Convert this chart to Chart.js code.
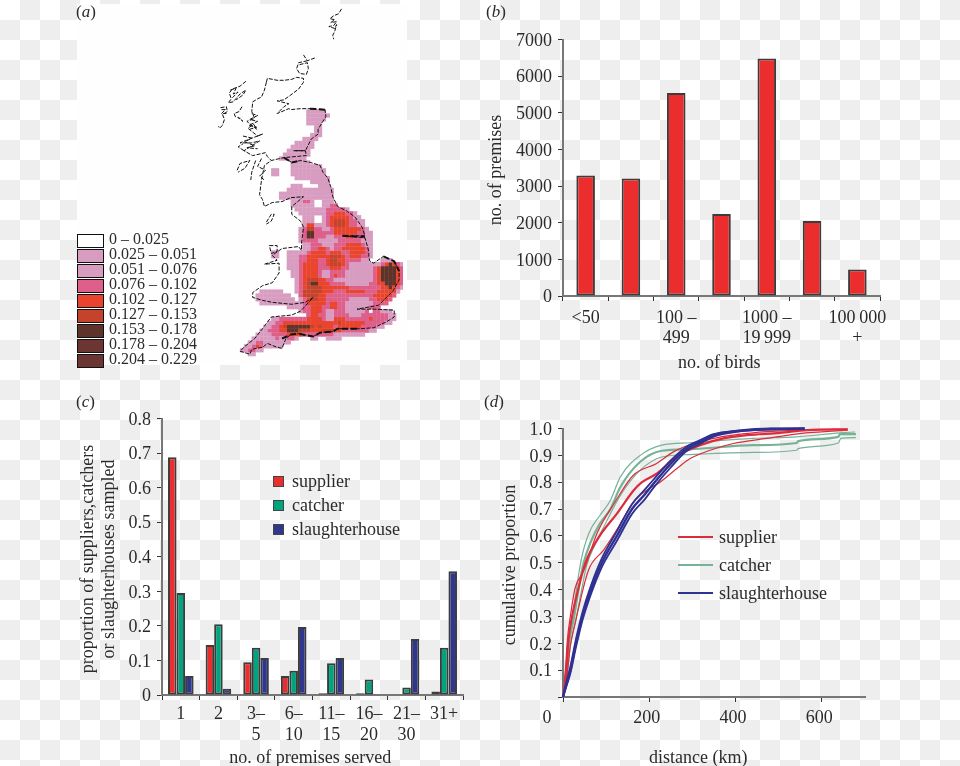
<!DOCTYPE html>
<html>
<head>
<meta charset="utf-8">
<title>Poultry premises</title>
<script src="https://cdn.jsdelivr.net/npm/chart.js@4/dist/chart.umd.js"></script>
<style>
html, body { margin: 0; padding: 0; }
body {
    width: 960px; height: 766px; overflow: hidden; position: relative;
    background-color: #fff;
    background-image: conic-gradient(#eee 25%, #fff 0 50%, #eee 0 75%, #fff 0);
    background-size: 40px 40px;
    font-family: "Liberation Serif", serif; color: #2b2b2b; font-size: 18px;
}
canvas { position: absolute; }
.txt { position: absolute; white-space: nowrap; line-height: 20px; }
.panel { font-size: 17px; }
.panel i { font-style: italic; }
.mapBack { position: absolute; left: 77px; top: 4px; width: 330px; height: 361px; background: #fefefe; }
.swatch { position: absolute; box-sizing: border-box; }
</style>
</head>
<body>
<div class="mapBack"></div>
<canvas id="mapChart" width="330" height="365" style="left:77px;top:0"></canvas>
<canvas id="birdsChart" width="420" height="354" style="left:486px;top:20px"></canvas>
<canvas id="servedChart" width="405" height="369" style="left:78px;top:400px"></canvas>
<canvas id="distChart" width="385" height="359" style="left:500px;top:410px"></canvas>
<script>
const FONT = 'Liberation Serif';
const INK = '#2b2b2b';
const NB = '\u00a0';

// (a) map: classes per 4 px cell, one string per row, spaces only for counting
const mapClasses = ['0 – 0.025', '0.025 – 0.051', '0.051 – 0.076', '0.076 – 0.102', '0.102 – 0.127',
    '0.127 – 0.153', '0.153 – 0.178', '0.178 – 0.204', '0.204 – 0.229'];
const mapClassColors = ['#ffffff', '#d89cc0', '#d89cc0', '#de5f8a', '#e9452e', '#c5432b', '#5e3329', '#6b3631', '#6b3631'];
const mapRows = [
    '0000000000 0000000000 0000000000 0000000000 00',
    '0000000000 0000000111 1100000000 0000000000 00',
    '0000000000 0000000111 1110000000 0000000000 00',
    '0000000000 0000000111 1100000000 0000000000 00',
    '0000000000 0000000111 1000000000 0000000000 00',
    '0000000000 0000000001 1000000000 0000000000 00',
    '0000000000 0000000001 1000000000 0000000000 00',
    '0000000000 0000000011 1000000000 0000000000 00',
    '0000000000 0000001111 0000000000 0000000000 00',
    '0000000000 0000111110 0000000000 0000000000 00',
    '0000000000 0001111110 0000000000 0000000000 00',
    '0000000000 0011111100 0000000000 0000000000 00',
    '0000000000 0111111100 0000000000 0000000000 00',
    '0000000000 1111111000 0000000000 0000000000 00',
    '0000000000 0001111100 0000000000 0000000000 00',
    '0000000000 0001111111 1000000000 0000000000 00',
    '0000000011 0001111111 1100000000 0000000000 00',
    '0000000011 0001111111 1100000000 0000000000 00',
    '0000000000 0000111111 1110000000 0000000000 00',
    '0000000000 0000000011 1110000000 0000000000 00',
    '0000000000 0001110000 1110000000 0000000000 00',
    '0000000000 0011111111 1111000000 0000000000 00',
    '0000000000 1111111111 1111000000 0000000000 00',
    '0000000000 1111111111 1111000000 0000000000 00',
    '0000000000 0001113310 0111000000 0000000000 00',
    '0000000000 0001111110 0113300000 0000000000 00',
    '0000000000 0000111111 1133333100 0000000000 00',
    '0000000000 0000011111 1133444331 0000000000 00',
    '0000000000 0000001110 0134444431 1000000000 00',
    '0000000000 0000001110 0134555433 1100000000 00',
    '0000000000 0000001441 1134555433 1100000000 00',
    '0000000000 0000013553 3113444444 4310000000 00',
    '0000000000 0000013663 3333444444 3311000000 00',
    '0000000000 0000013663 3311333443 3311000000 00',
    '0000000000 0000013333 1111133333 3111000000 00',
    '0000000000 0000001133 3111333444 4311000000 00',
    '0000000000 0000001133 4431334444 4431000000 00',
    '0000000011 0011111344 4434443344 4431000000 00',
    '0000000011 0011133444 4445554344 4331000000 00',
    '0000000000 0011133444 3345544333 3110001110 00',
    '0000000000 0011134444 3345554311 1111113464 31',
    '0000000000 0011134444 3334443311 1111346666 43',
    '0000000000 0001134444 3113333111 1111346666 43',
    '0000000000 0001134444 3113433111 1111346666 43',
    '0000000000 0000134555 4433111111 1111346666 43',
    '0000000000 0000134566 4443333111 1113344666 43',
    '0000000000 0000134555 5444444433 3333334464 31',
    '0000011111 1000135555 5444333444 4433344444 10',
    '0000111111 1110035555 4433333333 3333444443 00',
    '0000111111 1111013455 4433333311 1113344430 00',
    '0000011111 1111113444 4434433111 1111333300 00',
    '0000000000 0011113344 4334433111 1113330000 00',
    '0000000000 0000013344 4311333111 1130331110 00',
    '0000000000 0000000344 3311333311 1333333311 00',
    '0000000011 3333333444 4311444333 3334333311 00',
    '0000000113 3444444444 4444454444 4433333110 00',
    '0000001133 4566666654 5444344444 4333311000 00',
    '0000011333 4466655544 4555443333 3331100000 00',
    '0000111133 3344443333 3333111111 1100000000 00',
    '0001111113 1133100011 0011110000 0000000000 00',
    '0011331111 1110000000 0000000000 0000000000 00',
    '0113431111 1000000000 0000000000 0000000000 00',
    '1133110000 0000000000 0000000000 0000000000 00',
    '0011000000 0000000000 0000000000 0000000000 00'
];
// coastline traces in map grid units
const coastLines = [
    [[344,5],[341,10],[336,12],[332,15],[337,16],[333,19],[339,18],[336,22],[331,23],[337,25],[339,21],[337,28],[335,32],[336,36]],
    [[305,52],[309,58],[317,55]],
    [[309,58],[300,60],[298,66],[301,71],[308,72],[310,66],[309,60],[301,62]],
    [[267,80],[268,76],[278,78],[285,78],[293,77],[298,75],[305,76],[305,80],[300,87],[292,93],[285,98],[278,99],[290,102],[285,105],[278,112],[290,107],[292,108],[302,107],[310,107],[327,108],[328,115],[320,128],[320,133],[313,138],[307,150],[295,150],[307,150],[308,155],[285,157],[293,162],[302,160],[312,162],[322,165],[325,172],[330,178],[333,187],[335,197],[340,207],[350,212],[358,218],[365,228],[368,237],[345,237],[368,239],[372,253],[372,258],[373,263],[377,265],[387,258],[398,263],[403,273],[403,282],[397,293],[387,303],[382,308],[360,312],[378,312],[398,313],[398,320],[390,325],[377,331],[363,332],[340,332],[335,335],[322,336],[315,340],[300,337],[292,338],[287,342],[283,352],[278,351],[268,347],[263,351],[252,353],[250,358],[240,355],[245,350],[255,342],[263,332],[272,320],[293,318],[302,314],[315,300],[307,305],[293,307],[273,305],[263,303],[253,300],[253,295],[263,288],[273,285],[280,275],[280,265],[265,266],[278,262],[273,257],[283,250],[300,248],[303,252],[303,245],[305,228],[302,222],[293,215],[293,207],[298,203],[305,197],[292,198],[283,202],[273,203],[265,207],[263,200],[260,195],[262,180],[265,165],[272,160],[285,157]],
    [[270,247],[278,247],[278,253],[272,255],[270,247]],
    [[267,223],[272,215],[275,215],[272,222],[267,225]],
    [[246,79],[240,84],[232,87],[229,91],[231,97],[228,101],[233,100],[240,92],[246,88],[243,93],[236,98]],
    [[230,88],[236,86],[233,92],[238,90],[232,96]],
    [[220,106],[226,105],[227,110],[222,113],[224,118],[222,124],[219,127],[218,125]],
    [[221,108],[225,108],[221,112],[226,112]],
    [[242,105],[239,110],[234,112],[235,115],[240,117],[243,120],[238,116]],
    [[252,112],[258,114],[250,118],[258,120],[249,124],[257,126],[250,128]],
    [[267,80],[265,88],[262,95],[258,97],[253,100],[252,110],[255,117],[247,120],[257,128],[254,123],[248,127],[258,135],[263,133],[250,138],[240,142],[252,142],[260,140],[244,150],[253,155],[266,152],[268,156],[272,160]],
    [[243,135],[252,137],[245,141],[255,145],[247,147],[258,148]],
    [[256,160],[252,172],[251,180]],
    [[262,158],[258,166],[266,170],[260,176],[265,180]],
    [[237,170],[240,163],[250,160],[245,168],[238,172]],
    [[244,150],[238,146],[243,143]]
];
// stretches of coast that print heavier
const coastHeavy = [
    [[283,342],[292,338],[300,337],[315,340],[322,336],[335,335],[340,332],[363,332]],
    [[345,237],[368,238]],
    [[285,157],[293,162],[302,160]],
    [[327,108],[310,107]],
    [[387,258],[398,263],[403,273]]
];

// (b) premises by flock size
const birdLabels = ['<50', '', ['100 –', '499'], '', ['1000 –', '19\u2009999'], '', ['100\u2009000', '+']];
const birdCounts = [3290, 3210, 5540, 2240, 6480, 2050, 720];

// (c) premises served
const servedLabels = ['1', '2', ['3–', '5'], ['6–', '10'], ['11–', '15'], ['16–', '20'], ['21–', '30'], '31+'];
const supplierShare = [0.688, 0.145, 0.095, 0.055, 0.005, 0.005, null, 0.01];
const catcherShare = [0.295, 0.205, 0.137, 0.07, 0.092, 0.045, 0.022, 0.137];
const slaughterShare = [0.055, 0.018, 0.107, 0.197, 0.107, null, 0.162, 0.358];

// (d) cumulative proportion against distance, mean with upper and lower bound
const slaughterKm = [0, 10, 17, 30, 45, 65, 90, 125, 160, 190, 210, 248, 287, 318, 349, 403, 480, 560];
const slaughterMean = [0, 0.06, 0.10, 0.20, 0.30, 0.40, 0.50, 0.60, 0.70, 0.755, 0.795, 0.865, 0.925, 0.95, 0.975, 0.99, 0.998, 1];
const slaughterUpper = [0, 0.07, 0.113, 0.215, 0.315, 0.416, 0.516, 0.618, 0.718, 0.773, 0.81, 0.878, 0.933, 0.957, 0.979, 0.992, 1, 1];
const slaughterLower = [0, 0.05, 0.087, 0.185, 0.285, 0.384, 0.484, 0.582, 0.682, 0.737, 0.78, 0.852, 0.917, 0.943, 0.97, 0.988, 0.996, 0.999];

const supplierKm = [0, 8, 12, 21, 35, 52, 85, 125, 164, 183, 218, 267, 318, 372, 426, 503, 565, 660];
const supplierMean = [0, 0.10, 0.20, 0.30, 0.40, 0.50, 0.60, 0.683, 0.77, 0.80, 0.833, 0.90, 0.938, 0.963, 0.975, 0.984, 0.994, 0.997];
const supplierUpKm = [0, 6, 10, 17, 28, 48, 79, 121, 163, 217, 256, 302, 349, 395, 472, 660];
const supplierUpper = [0, 0.11, 0.21, 0.30, 0.405, 0.47, 0.61, 0.727, 0.826, 0.87, 0.913, 0.944, 0.963, 0.975, 0.988, 0.998];
const supplierLowKm = [0, 10, 17, 28, 59, 94, 129, 163, 194, 225, 264, 295, 341, 395, 472, 549, 660];
const supplierLower = [0, 0.09, 0.19, 0.273, 0.472, 0.547, 0.634, 0.727, 0.77, 0.80, 0.851, 0.888, 0.919, 0.944, 0.963, 0.981, 0.994];

const catcherKm = [0, 8, 14, 26, 36, 48, 65, 85, 110, 133, 179, 229, 295, 441, 542, 545, 638, 642, 679];
const catcherMean = [0, 0.10, 0.20, 0.30, 0.40, 0.50, 0.58, 0.645, 0.70, 0.782, 0.876, 0.917, 0.923, 0.938, 0.946, 0.953, 0.969, 0.979, 0.979];
const catcherUpKm = [0, 6, 12, 22, 32, 42, 60, 85, 110, 133, 179, 229, 295, 441, 542, 642, 677];
const catcherUpper = [0, 0.10, 0.20, 0.30, 0.41, 0.51, 0.61, 0.675, 0.733, 0.82, 0.90, 0.938, 0.947, 0.963, 0.969, 0.984, 0.987];
const catcherLowKm = [0, 10, 17, 30, 42, 55, 72, 95, 133, 179, 229, 295, 441, 542, 545, 638, 644, 679];
const catcherLower = [0, 0.09, 0.19, 0.29, 0.39, 0.49, 0.56, 0.635, 0.751, 0.845, 0.894, 0.903, 0.911, 0.919, 0.925, 0.946, 0.963, 0.966];

const seriesNames = ['supplier', 'catcher', 'slaughterhouse'];
const barColors = ['#ec2d2e', '#00a57f', '#2e3690'];
const curveColors = ['#dc2b3c', '#76b296', '#2f3192'];

Chart.defaults.font.family = FONT;
Chart.defaults.font.size = 18;
Chart.defaults.color = INK;
Chart.defaults.animation = false;
Chart.defaults.responsive = false;
Chart.defaults.plugins.legend.display = false;
Chart.defaults.plugins.tooltip.enabled = false;

function pairs(xs, ys) {
    return xs.map((x, i) => ({ x: x, y: ys[i] }));
}

function addText(text, left, midY, cls, size) {
    const el = document.createElement('div');
    el.className = 'txt ' + (cls || '');
    el.innerHTML = text;
    el.style.left = left + 'px';
    el.style.top = (midY - 10) + 'px';
    if (size) el.style.fontSize = size + 'px';
    document.body.appendChild(el);
}

function addSwatch(left, top, w, h, fill, border) {
    const el = document.createElement('div');
    el.className = 'swatch';
    el.style.cssText = `left:${left}px;top:${top}px;width:${w}px;height:${h}px;background:${fill};` +
        (border ? `border:1.5px solid ${border};` : '');
    document.body.appendChild(el);
}

// axes shared by the three plotted panels
function yAxis(width, max, step, title, label) {
    return {
        min: 0, max: max,
        afterFit: s => { s.width = width; },
        border: { color: '#777', width: 2 },
        grid: { drawOnChartArea: false, color: '#333', tickLength: 5 },
        ticks: { stepSize: step, padding: 6, labelOffset: 1.5, callback: label },
        title: { display: true, text: title, padding: 0, font: { size: 18, lineHeight: 21 / 18 } }
    };
}

function xBandAxis(height, title, pad, lineHeight) {
    return {
        afterFit: s => { s.height = height; },
        border: { color: '#777', width: 2 },
        grid: { offset: true, drawOnChartArea: false, color: '#333', tickLength: 5 },
        ticks: { maxRotation: 0, autoSkip: false, padding: pad, font: { size: 18, lineHeight: lineHeight } },
        title: { display: true, text: title, padding: 0 }
    };
}

// (a) map
const mapDatasets = [];
coastLines.forEach(line => {
    mapDatasets.push({
        data: line.map(p => ({ x: p[0], y: p[1] })),
        showLine: true, pointRadius: 0, borderColor: '#111', borderWidth: 1,
        borderDash: [4, 1.5], order: 0
    });
});
coastHeavy.forEach(line => {
    mapDatasets.push({
        data: line.map(p => ({ x: p[0], y: p[1] })),
        showLine: true, pointRadius: 0, borderColor: '#111', borderWidth: 2,
        borderDash: [6, 3], order: 0
    });
});
mapClassColors.forEach((color, cls) => {
    if (cls === 0) return;
    const pts = [];
    mapRows.forEach((row, r) => {
        row.replace(/ /g, '').split('').forEach((v, c) => {
            if (Number(v) === cls) pts.push({ x: 242 + 4 * c, y: 106 + 4 * r });
        });
    });
    mapDatasets.push({
        data: pts, pointStyle: 'rect', pointRadius: 3, pointBorderWidth: 0,
        pointBackgroundColor: color, showLine: false, order: 1
    });
});
new Chart(document.getElementById('mapChart'), {
    type: 'scatter',
    data: { datasets: mapDatasets },
    options: {
        layout: { padding: 0 },
        scales: {
            x: { display: false, min: 77, max: 407 },
            y: { display: false, min: 0, max: 365, reverse: true }
        }
    }
});
mapClasses.forEach((name, i) => {
    addSwatch(77, 234 + 15 * i, 27, 13.5, mapClassColors[i], '#111');
    addText(name, 109, 239 + 15 * i, '', 16);
});

// (b) flock sizes
new Chart(document.getElementById('birdsChart'), {
    type: 'bar',
    data: {
        labels: birdLabels,
        datasets: [{
            data: birdCounts, backgroundColor: barColors[0], borderColor: '#3c3c3c',
            borderWidth: 2, borderSkipped: false, barPercentage: 0.41, categoryPercentage: 1
        }]
    },
    options: {
        layout: { padding: { top: 19.5, right: 26 } },
        scales: {
            x: xBandAxis(78, 'no. of birds' + NB, 7, 1.13),
            y: yAxis(77, 7000, 1000, 'no. of premises' + NB, v => String(v))
        }
    }
});

// (c) premises served
const shareSeries = [supplierShare, catcherShare, slaughterShare];
new Chart(document.getElementById('servedChart'), {
    type: 'bar',
    data: {
        labels: servedLabels,
        datasets: shareSeries.map((vals, i) => ({
            label: seriesNames[i], data: vals, backgroundColor: barColors[i], borderColor: '#3c3c3c',
            borderWidth: 2, borderSkipped: false, barPercentage: 1, categoryPercentage: 0.68
        }))
    },
    options: {
        layout: { padding: { top: 18.5, right: 20 } },
        scales: {
            x: xBandAxis(74, 'no. of premises served' + NB, 4, 1.15),
            y: yAxis(84, 0.8, 0.1, ['proportion of suppliers,catchers' + NB, 'or slaughterhouses sampled' + NB],
                v => v === 0 ? '0' : v.toFixed(1))
        }
    }
});
seriesNames.forEach((name, i) => {
    addSwatch(272.5, 475.5 + 24 * i, 11, 11, barColors[i], '#444');
    addText(name, 292, 480.5 + 24 * i);
});

// (d) distance curves, first dataset is drawn on top
function curve(name, xs, ys, color, width) {
    return {
        label: name, data: pairs(xs, ys), showLine: true, pointRadius: 0,
        borderColor: color, borderWidth: width, cubicInterpolationMode: 'monotone', clip: false
    };
}
new Chart(document.getElementById('distChart'), {
    type: 'scatter',
    data: {
        datasets: [
            curve('slaughterhouse', slaughterKm, slaughterMean, curveColors[2], 2.4),
            curve('slaughterhouse upper', slaughterKm, slaughterUpper, curveColors[2], 1.8),
            curve('slaughterhouse lower', slaughterKm, slaughterLower, curveColors[2], 1.8),
            curve('supplier', supplierKm, supplierMean, curveColors[0], 2.2),
            curve('supplier upper', supplierUpKm, supplierUpper, curveColors[0], 1.2),
            curve('supplier lower', supplierLowKm, supplierLower, curveColors[0], 1.2),
            curve('catcher', catcherKm, catcherMean, curveColors[1], 2.2),
            curve('catcher upper', catcherUpKm, catcherUpper, curveColors[1], 1.2),
            curve('catcher lower', catcherLowKm, catcherLower, curveColors[1], 1.2)
        ]
    },
    options: {
        layout: { padding: { top: 18.5, right: 20 } },
        scales: {
            x: {
                type: 'linear', min: 0, max: 700,
                afterFit: s => { s.height = 72; },
                border: { color: '#777', width: 2 },
                grid: { drawOnChartArea: false, color: '#333', tickLength: 5 },
                ticks: {
                    stepSize: 200, includeBounds: false, maxRotation: 0, padding: 5, labelOffset: -2.5,
                    // the zero sits left of its tick in the reference
                    callback: v => v === 0 ? '0' + NB.repeat(6) : String(v)
                },
                title: { display: true, text: 'distance (km)' + NB.repeat(7), padding: 0 }
            },
            y: yAxis(63, 1, 0.1, 'cumulative proportion' + NB, v => v === 0 ? '' : v.toFixed(1))
        }
    }
});
seriesNames.forEach((name, i) => {
    addSwatch(678, 535.5 + 28 * i, 35, 2, curveColors[i]);
    addText(name, 719, 536.5 + 28 * i);
});

// panel letters
addText('(<i>a</i>)', 76, 12, 'panel');
addText('(<i>b</i>)', 486, 12, 'panel');
addText('(<i>c</i>)', 76, 402, 'panel');
addText('(<i>d</i>)', 484, 402, 'panel');
</script>
</body>
</html>
